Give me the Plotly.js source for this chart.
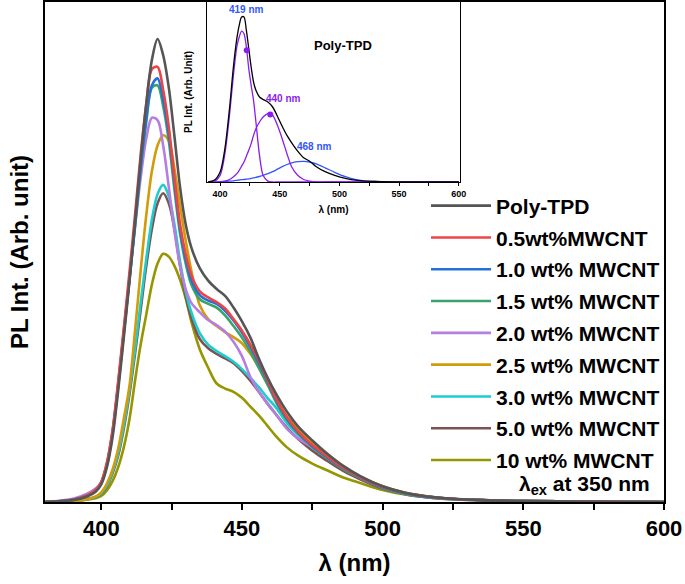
<!DOCTYPE html>
<html>
<head>
<meta charset="utf-8">
<script src="https://cdn.plot.ly/plotly-3.0.1.min.js"></script>
<style>
  body { margin: 0; background: #fff; }
  #pl-plot { width: 685px; height: 584px; }
</style>
</head>
<body>
<div id="pl-plot"></div>
<script>
// wavelength grid (nm) for the main spectra
const wavelength = [380, 390, 395, 398, 400, 402, 404, 406, 408, 410, 412, 414, 416, 418, 420, 422, 424, 426, 428, 430,
  432, 435, 438, 441, 444, 447, 450, 453, 456, 459, 462, 466, 470, 475, 480, 486, 492, 500, 508, 516, 525, 535, 550, 570, 600];

const polyTPD = [0, 0.004, 0.012, 0.022, 0.038, 0.075, 0.14, 0.24, 0.355, 0.475, 0.605, 0.74, 0.86, 0.955, 1.0, 0.965, 0.895, 0.79, 0.68, 0.6,
  0.55, 0.505, 0.478, 0.46, 0.445, 0.42, 0.39, 0.355, 0.31, 0.27, 0.235, 0.195, 0.163, 0.133, 0.106, 0.078, 0.056, 0.034, 0.02, 0.012, 0.007, 0.004, 0.002, 0.001, 0];
const mw05 = [0, 0.005, 0.014, 0.026, 0.043, 0.085, 0.155, 0.26, 0.375, 0.495, 0.62, 0.75, 0.86, 0.935, 0.94, 0.89, 0.81, 0.7, 0.6, 0.535,
  0.49, 0.455, 0.442, 0.432, 0.418, 0.395, 0.37, 0.34, 0.305, 0.265, 0.225, 0.183, 0.152, 0.123, 0.1, 0.074, 0.054, 0.033, 0.02, 0.012, 0.007, 0.004, 0.002, 0.001, 0];
const mw10 = [0, 0.005, 0.014, 0.025, 0.041, 0.08, 0.148, 0.25, 0.365, 0.48, 0.6, 0.725, 0.83, 0.9, 0.915, 0.87, 0.795, 0.69, 0.59, 0.525,
  0.48, 0.447, 0.435, 0.428, 0.413, 0.392, 0.366, 0.335, 0.3, 0.262, 0.222, 0.18, 0.15, 0.121, 0.098, 0.073, 0.053, 0.032, 0.019, 0.011, 0.007, 0.004, 0.002, 0.001, 0];
const mw15 = [0, 0.005, 0.014, 0.026, 0.043, 0.083, 0.15, 0.252, 0.365, 0.48, 0.595, 0.72, 0.82, 0.895, 0.9, 0.855, 0.78, 0.675, 0.58, 0.515,
  0.47, 0.438, 0.428, 0.42, 0.403, 0.38, 0.355, 0.325, 0.29, 0.255, 0.217, 0.177, 0.147, 0.119, 0.096, 0.071, 0.052, 0.031, 0.018, 0.011, 0.006, 0.004, 0.002, 0.001, 0];
const mw20 = [0, 0.007, 0.018, 0.029, 0.043, 0.082, 0.152, 0.255, 0.37, 0.485, 0.595, 0.7, 0.785, 0.83, 0.825, 0.77, 0.68, 0.585, 0.51, 0.46,
  0.43, 0.41, 0.393, 0.382, 0.368, 0.346, 0.315, 0.27, 0.238, 0.213, 0.19, 0.158, 0.137, 0.118, 0.097, 0.073, 0.053, 0.032, 0.019, 0.011, 0.006, 0.004, 0.002, 0.001, 0];
const mw25 = [0, 0.002, 0.006, 0.012, 0.021, 0.04, 0.07, 0.115, 0.18, 0.25, 0.37, 0.5, 0.62, 0.715, 0.77, 0.792, 0.78, 0.72, 0.64, 0.565,
  0.5, 0.425, 0.395, 0.38, 0.367, 0.356, 0.343, 0.32, 0.29, 0.255, 0.225, 0.185, 0.158, 0.127, 0.105, 0.077, 0.056, 0.034, 0.02, 0.012, 0.007, 0.004, 0.002, 0.001, 0];
const mw30 = [0, 0.002, 0.006, 0.011, 0.019, 0.036, 0.065, 0.105, 0.165, 0.24, 0.33, 0.43, 0.525, 0.61, 0.665, 0.685, 0.66, 0.6, 0.52, 0.455,
  0.41, 0.365, 0.34, 0.326, 0.315, 0.303, 0.287, 0.268, 0.248, 0.225, 0.205, 0.17, 0.145, 0.118, 0.097, 0.072, 0.052, 0.031, 0.018, 0.011, 0.006, 0.004, 0.002, 0.001, 0];
const mw50 = [0, 0.002, 0.006, 0.011, 0.018, 0.034, 0.062, 0.1, 0.158, 0.232, 0.32, 0.415, 0.51, 0.59, 0.645, 0.667, 0.645, 0.59, 0.51, 0.445,
  0.398, 0.352, 0.332, 0.32, 0.31, 0.3, 0.283, 0.262, 0.238, 0.213, 0.19, 0.16, 0.136, 0.111, 0.09, 0.067, 0.049, 0.029, 0.017, 0.01, 0.006, 0.004, 0.002, 0.001, 0];
const mw100 = [0, 0.002, 0.005, 0.008, 0.013, 0.025, 0.045, 0.075, 0.118, 0.178, 0.262, 0.34, 0.405, 0.47, 0.515, 0.536, 0.53, 0.51, 0.48, 0.44,
  0.39, 0.33, 0.29, 0.256, 0.245, 0.238, 0.225, 0.206, 0.187, 0.165, 0.143, 0.118, 0.1, 0.083, 0.069, 0.053, 0.041, 0.026, 0.016, 0.01, 0.006, 0.004, 0.002, 0.001, 0];

const seriesNames = ["Poly-TPD", "0.5wt%MWCNT", "1.0 wt% MWCNT", "1.5 wt% MWCNT", "2.0 wt% MWCNT",
  "2.5 wt% MWCNT", "3.0 wt% MWCNT", "5.0 wt% MWCNT", "10 wt% MWCNT"];
const seriesValues = [polyTPD, mw05, mw10, mw15, mw20, mw25, mw30, mw50, mw100];
const seriesColors = ["#555555", "#ee4444", "#2270d8", "#3aa36c", "#b67de2", "#d29c08", "#1ccdd0", "#7d5252", "#969600"];

// inset: Poly-TPD deconvolution
const insetWl = [390, 395, 400, 404, 408, 411, 414, 416, 418, 420, 422, 424, 426, 428, 430, 433, 436, 440, 444, 448,
  452, 456, 460, 465, 470, 475, 480, 488, 496, 505, 515, 530, 550, 575, 600];
const insetTotal = [0, 0.01, 0.06, 0.2, 0.45, 0.68, 0.86, 0.94, 0.99, 0.99, 0.91, 0.8, 0.69, 0.6, 0.55, 0.51, 0.495, 0.48, 0.45, 0.395,
  0.335, 0.28, 0.235, 0.185, 0.145, 0.125, 0.095, 0.062, 0.04, 0.022, 0.01, 0.003, 0.001, 0, 0];
const insetPeak419 = [0, 0.003, 0.04, 0.17, 0.41, 0.63, 0.81, 0.87, 0.905, 0.89, 0.81, 0.68, 0.58, 0.49, 0.36, 0.16, 0.04, 0.005, 0, 0,
  0, 0, 0, 0, 0, 0, 0, 0, 0, 0, 0, 0, 0, 0, 0];
const insetPeak440 = [0, 0, 0, 0.005, 0.015, 0.03, 0.05, 0.07, 0.095, 0.12, 0.155, 0.19, 0.23, 0.28, 0.32, 0.36, 0.39, 0.41, 0.4, 0.34,
  0.26, 0.17, 0.09, 0.04, 0.015, 0.005, 0, 0, 0, 0, 0, 0, 0, 0, 0];
const insetPeak468 = [0, 0.001, 0.002, 0.004, 0.005, 0.007, 0.01, 0.012, 0.014, 0.015, 0.017, 0.019, 0.022, 0.025, 0.028, 0.033, 0.04, 0.05, 0.062, 0.077,
  0.092, 0.105, 0.115, 0.122, 0.124, 0.12, 0.11, 0.085, 0.058, 0.032, 0.013, 0.003, 0, 0, 0];
const peakMarkWl = [422.3, 442];
const peakMarkVal = [0.79, 0.405];

const boldFont = { family: "Liberation Sans, Arial, sans-serif", color: "#000", weight: 700 };

const traces = seriesNames.map((name, i) => ({
  x: wavelength,
  y: seriesValues[i],
  mode: "lines",
  name: name,
  legendgroup: "g" + i,
  legendrank: i + 1,
  line: { color: seriesColors[i], width: 2.6, shape: "spline", smoothing: 0.9 },
  xaxis: "x", yaxis: "y",
}));

// draw the lower-concentration curves on top in reverse order like the original
traces.reverse();

const insetTraces = [
  { y: insetPeak468, color: "#3355ff" },
  { y: insetPeak440, color: "#8a1cf0" },
  { y: insetPeak419, color: "#8a1cf0" },
  { y: insetTotal, color: "#000000" },
].map(s => ({
  x: insetWl, y: s.y, mode: "lines", showlegend: false, hoverinfo: "skip",
  line: { color: s.color, width: 1.3, shape: "spline", smoothing: 0.8 },
  xaxis: "x2", yaxis: "y2",
}));
insetTraces.push({
  x: peakMarkWl, y: peakMarkVal, mode: "markers", showlegend: false,
  marker: { color: "#8a1cf0", size: 6 }, xaxis: "x2", yaxis: "y2",
});

const layout = {
  width: 685, height: 584,
  margin: { t: 2, r: 21, b: 82, l: 45 },
  paper_bgcolor: "#fff", plot_bgcolor: "#fff",
  font: boldFont,
  xaxis: {
    range: [380, 600], domain: [0, 1],
    showgrid: false, zeroline: false,
    showline: true, linecolor: "#000", linewidth: 2, mirror: true,
    ticks: "outside", ticklen: 6, tickwidth: 1.5, tickcolor: "#000", dtick: 50, tick0: 400,
    minor: { dtick: 25, tick0: 400, ticks: "outside", ticklen: 6, tickwidth: 1.5, tickcolor: "#000" },
    tickfont: { ...boldFont, size: 22 },
    title: { text: "λ (nm)", font: { ...boldFont, size: 24 }, standoff: 14 },
  },
  yaxis: {
    range: [0, 1.08], domain: [0, 1],
    showgrid: false, zeroline: false, showticklabels: false, ticks: "",
    showline: true, linecolor: "#000", linewidth: 2, mirror: true,
    title: { text: "PL Int. (Arb. unit)", font: { ...boldFont, size: 24 }, standoff: 8 },
  },
  xaxis2: {
    anchor: "y2", domain: [0.2617, 0.6704], range: [389, 601],
    showgrid: false, zeroline: false,
    showline: true, linecolor: "#000", linewidth: 1.2, mirror: true,
    ticks: "outside", ticklen: 3, tickwidth: 1, tickcolor: "#000", dtick: 50, tick0: 400,
    minor: { dtick: 25, tick0: 400, ticks: "outside", ticklen: 3, tickwidth: 1, tickcolor: "#000" },
    tickfont: { ...boldFont, size: 9 },
    title: { text: "λ (nm)", font: { ...boldFont, size: 10 }, standoff: 8 },
  },
  yaxis2: {
    anchor: "x2", domain: [0.64, 1.0], range: [0, 1.08],
    showgrid: false, zeroline: false, showticklabels: false, ticks: "",
    showline: true, linecolor: "#000", linewidth: 1.2, mirror: true,
    title: { text: "PL Int. (Arb. Unit)", font: { ...boldFont, size: 10 }, standoff: 11 },
  },
  legend: {
    x: 0.6155, y: 0.633, xanchor: "left", yanchor: "top",
    bgcolor: "rgba(0,0,0,0)", borderwidth: 0,
    font: { ...boldFont, size: 21 },
    itemwidth: 60, tracegroupgap: 1.5, traceorder: "grouped",
  },
  annotations: [
    { xref: "paper", yref: "paper", x: 0.98, y: 0.035, xanchor: "right", yanchor: "middle", showarrow: false,
      text: "λ<sub>ex</sub> at 350 nm", font: { ...boldFont, size: 21 } },
    { xref: "x2", yref: "y2", x: 422.3, y: 1.035, showarrow: false, text: "419 nm", font: { ...boldFont, size: 10, color: "#3355ff" } },
    { xref: "x2", yref: "y2", x: 452.7, y: 0.5, showarrow: false, text: "440 nm", font: { ...boldFont, size: 10, color: "#8a1cf0" } },
    { xref: "x2", yref: "y2", x: 479, y: 0.216, showarrow: false, text: "468 nm", font: { ...boldFont, size: 10, color: "#3355ff" } },
    { xref: "x2", yref: "y2", x: 503, y: 0.82, showarrow: false, text: "Poly-TPD", font: { ...boldFont, size: 13 } },
  ],
};

Plotly.newPlot("pl-plot", [...traces, ...insetTraces], layout, { displayModeBar: false });
</script>
</body>
</html>
